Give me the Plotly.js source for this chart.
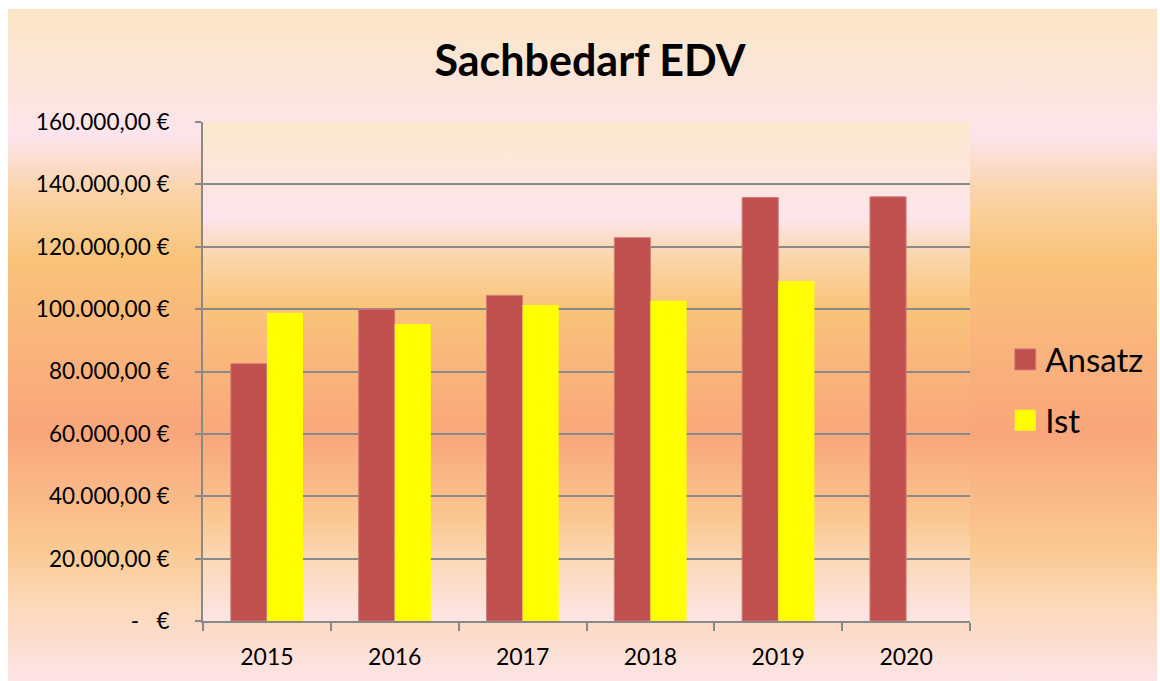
<!DOCTYPE html>
<html>
<head>
<meta charset="utf-8">
<script src="https://cdn.plot.ly/plotly-3.0.1.min.js"></script>
<style>
  html, body { margin: 0; padding: 0; background: #ffffff; }
  #wrap { position: relative; width: 1160px; height: 681px; overflow: hidden; }
  #bg { position: absolute; left: 8px; top: 9px; width: 1149px; height: 672px;
        background: linear-gradient(to bottom, #FAE6C6 0%, #FBE5D8 10%, #FDE4EC 19%, #FAD4AA 27%, #F9C47A 37%, #F9B47C 50%, #F9A67B 63%, #FAC892 80%, #FBD8B6 88%, #FDE4E6 100%); }
  #chart { position: absolute; left: 0; top: 0; width: 1160px; height: 681px; }
</style>
</head>
<body>
<div id="wrap">
  <div id="bg"></div>
  <div id="chart"></div>
</div>
<script>
// ---- data ----
const years = ['2015', '2016', '2017', '2018', '2019', '2020'];
const ansatz = [82500, 100000, 104400, 122900, 135800, 136000];
const ist = [98800, 95200, 101300, 102700, 109000, null];
const seriesNames = ['Ansatz', 'Ist'];
const yTickValues = [0, 20000, 40000, 60000, 80000, 100000, 120000, 140000, 160000];
const yTickLabels = ['-\u00a0\u00a0\u00a0€', '20.000,00 €', '40.000,00 €', '60.000,00 €', '80.000,00 €',
                     '100.000,00 €', '120.000,00 €', '140.000,00 €', '160.000,00 €'];
const chartTitle = 'Sachbedarf EDV';

// ---- plot-area gradient as background image ----
const gradSvg = '<svg xmlns="http://www.w3.org/2000/svg" width="767" height="499">' +
  '<defs><linearGradient id="g" x1="0" y1="0" x2="0" y2="1">' +
  '<stop offset="0" stop-color="#FCE8CC"/>' +
  '<stop offset="0.10" stop-color="#FCE6DC"/>' +
  '<stop offset="0.19" stop-color="#FDE5EC"/>' +
  '<stop offset="0.27" stop-color="#FAD6AC"/>' +
  '<stop offset="0.37" stop-color="#F9C47A"/>' +
  '<stop offset="0.50" stop-color="#F9B47C"/>' +
  '<stop offset="0.63" stop-color="#F9A77B"/>' +
  '<stop offset="0.80" stop-color="#FAC892"/>' +
  '<stop offset="0.88" stop-color="#FBD9B8"/>' +
  '<stop offset="1" stop-color="#FDE5E6"/>' +
  '</linearGradient></defs><rect x="0" y="0" width="767" height="499" fill="url(#g)"/></svg>';
const gradUri = 'data:image/svg+xml;charset=utf-8,' + encodeURIComponent(gradSvg);

const FONT = 'Lato, "Open Sans", sans-serif';
const GRID = '#898989';

const traces = [
  {
    type: 'bar', name: seriesNames[0], x: years, y: ansatz,
    marker: { color: '#C0504D', line: { color: '#D57B78', width: 1 } },
    legendgroup: 'a', hoverinfo: 'x+y'
  },
  {
    type: 'bar', name: seriesNames[1], x: years, y: ist,
    marker: { color: '#FFFF00', line: { width: 0 } },
    legendgroup: 'b', hoverinfo: 'x+y'
  }
];

const layout = {
  width: 1160, height: 681,
  paper_bgcolor: 'rgba(0,0,0,0)',
  plot_bgcolor: 'rgba(0,0,0,0)',
  margin: { l: 203, r: 190, t: 122, b: 60, pad: 0 },
  font: { family: FONT, color: '#000000' },
  title: {
    text: '<b>' + chartTitle + '</b>',
    font: { family: FONT, size: 43, color: '#000000' },
    xref: 'container', yref: 'container',
    x: 590 / 1160, xanchor: 'center',
    y: 1 - 61 / 681, yanchor: 'middle'
  },
  barmode: 'group',
  bargap: 0.435,
  bargroupgap: 0,
  xaxis: {
    type: 'category',
    showgrid: false,
    showline: true, linecolor: GRID, linewidth: 2,
    ticks: 'outside', tickson: 'boundaries', ticklen: 8, tickwidth: 2, tickcolor: GRID,
    tickfont: { family: FONT, size: 23, color: '#000000' },
    ticklabelstandoff: 14,
    zeroline: false,
    fixedrange: true
  },
  yaxis: {
    range: [0, 160000],
    tickmode: 'array', tickvals: yTickValues, ticktext: yTickLabels,
    showgrid: true, gridcolor: GRID, gridwidth: 2,
    showline: true, linecolor: GRID, linewidth: 2,
    ticks: 'outside', ticklen: 6, tickwidth: 2, tickcolor: GRID,
    tickfont: { family: FONT, size: 22.5, color: '#000000' },
    ticklabelstandoff: 21,
    zeroline: false,
    fixedrange: true
  },
  showlegend: true,
  legend: {
    x: 1.046, xanchor: 'left',
    y: 0.463, yanchor: 'middle',
    bgcolor: 'rgba(0,0,0,0)',
    borderwidth: 0,
    font: { family: FONT, size: 33, color: '#000000' },
    tracegroupgap: 15,
    traceorder: 'grouped'
  },
  images: [{
    source: gradUri,
    xref: 'paper', yref: 'paper',
    x: 0, y: 1, sizex: 1, sizey: 1,
    xanchor: 'left', yanchor: 'top',
    sizing: 'stretch', layer: 'below'
  }]
};

Plotly.newPlot('chart', traces, layout, { displayModeBar: false, staticPlot: true }).then(function (gd) {
  gd.querySelectorAll('.legend .legendpoints path').forEach(function (p) {
    p.setAttribute('d', 'M10.5,10.5H-10.5V-10.5H10.5Z');
  });
});
</script>
</body>
</html>
